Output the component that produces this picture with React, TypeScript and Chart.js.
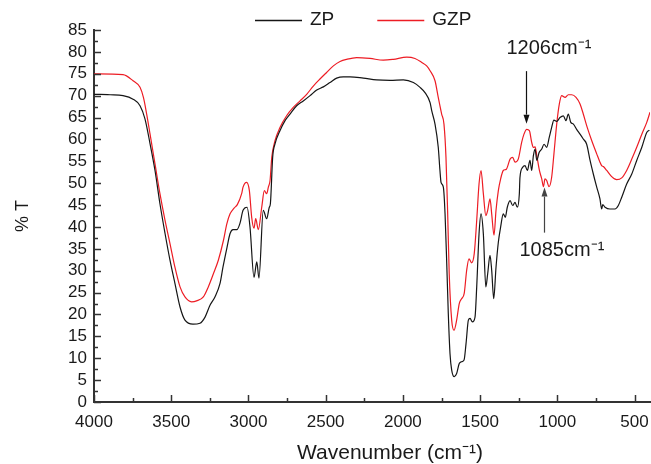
import React, { useEffect, useRef } from 'react';
import { Chart, registerables } from 'chart.js';

Chart.register(...registerables);

// ---- Data ----
const seriesNames = ['ZP', 'GZP'];

const zpWavenumber = [
  4000, 3961, 3896, 3812, 3747, 3702, 3670, 3637, 3605, 3573, 3540, 3508, 3476, 3443, 3411, 3359,
  3314, 3281, 3249, 3217, 3184, 3165, 3139, 3119, 3100, 3074, 3055, 3035, 3009, 2990, 2964, 2946,
  2932, 2904, 2882, 2865, 2858, 2843, 2828, 2796, 2763, 2731, 2688, 2645, 2601, 2558, 2515, 2472,
  2429, 2386, 2342, 2256, 2170, 2083, 1997, 1932, 1889, 1857, 1824, 1813, 1792, 1771, 1760, 1753,
  1738, 1727, 1716, 1706, 1695, 1684, 1667, 1652, 1635, 1620, 1604, 1591, 1576, 1565, 1550, 1533,
  1522, 1507, 1494, 1479, 1463, 1451, 1436, 1425, 1412, 1397, 1382, 1367, 1350, 1337, 1324, 1306,
  1289, 1274, 1259, 1246, 1242, 1225, 1209, 1194, 1177, 1166, 1155, 1144, 1133, 1118, 1101, 1086,
  1069, 1052, 1037, 1022, 1004, 983, 961, 944, 929, 913, 896, 875, 853, 832, 810, 788,
  767, 745, 724, 713, 706, 691, 659, 627, 605, 583, 551, 518, 486, 453, 421, 404,
];
const zpTransmittance = [
  70.3, 70.3, 70.2, 70.0, 69.2, 67.7, 64.7, 59.0, 52.9, 45.3, 38.5, 32.4, 27.1, 21.7, 18.7, 17.8,
  18.0, 19.4, 22.1, 24.0, 27.1, 30.8, 35.3, 38.5, 39.4, 39.4, 40.8, 43.8, 44.5, 40.0, 28.5, 32.0,
  28.3, 43.8, 41.9, 44.5, 45.3, 56.0, 59.0, 62.0, 64.3, 65.8, 67.7, 68.8, 70.0, 71.3, 72.0, 73.0,
  74.0, 74.3, 74.3, 74.0, 73.6, 73.5, 73.6, 73.0, 71.9, 70.7, 68.4, 66.5, 63.5, 58.2, 52.9, 50.2,
  49.1, 43.0, 31.6, 20.2, 11.1, 7.3, 5.8, 6.5, 8.8, 9.2, 9.6, 13.4, 18.7, 19.1, 18.3, 19.4,
  26.3, 38.4, 43.0, 38.4, 26.3, 29.3, 33.5, 30.1, 23.6, 30.8, 36.5, 40.0, 43.0, 42.2, 44.5, 46.0,
  44.9, 45.6, 44.5, 47.6, 51.3, 53.6, 54.0, 52.9, 55.2, 52.9, 56.3, 57.8, 55.2, 57.0, 57.8, 58.9,
  58.2, 60.5, 62.7, 64.4, 64.1, 65.0, 65.4, 64.3, 65.8, 63.9, 63.5, 62.3, 61.2, 60.1, 58.9, 55.2,
  52.1, 49.1, 46.4, 44.1, 45.1, 44.5, 44.1, 44.1, 44.9, 46.8, 49.8, 52.1, 55.2, 58.2, 61.6, 62.1,
];

const gzpWavenumber = [
  4000, 3812, 3747, 3702, 3680, 3659, 3637, 3605, 3573, 3540, 3508, 3476, 3443, 3411, 3368, 3336,
  3292, 3260, 3227, 3195, 3162, 3140, 3119, 3093, 3072, 3044, 3035, 3012, 2994, 2979, 2964, 2953,
  2936, 2914, 2897, 2882, 2871, 2860, 2849, 2828, 2796, 2753, 2710, 2666, 2623, 2580, 2537, 2494,
  2450, 2407, 2364, 2299, 2213, 2127, 2062, 1975, 1922, 1878, 1846, 1824, 1792, 1771, 1749, 1734,
  1721, 1710, 1700, 1684, 1669, 1652, 1635, 1620, 1603, 1587, 1572, 1555, 1538, 1522, 1507, 1494,
  1479, 1463, 1451, 1436, 1425, 1410, 1397, 1382, 1367, 1350, 1330, 1306, 1289, 1274, 1253, 1231,
  1216, 1198, 1181, 1166, 1155, 1144, 1133, 1116, 1101, 1090, 1080, 1069, 1054, 1037, 1022, 1004,
  987, 972, 950, 929, 907, 879, 853, 832, 806, 777, 745, 724, 713, 702, 680, 648,
  616, 583, 551, 518, 486, 453, 421, 400,
];
const gzpTransmittance = [
  75.0, 74.8, 73.4, 71.9, 69.6, 65.8, 61.2, 54.4, 47.6, 41.5, 36.2, 30.8, 26.3, 24.0, 22.9, 23.1,
  24.0, 26.3, 29.3, 32.4, 36.9, 40.7, 43.0, 44.3, 45.1, 47.6, 49.1, 50.2, 48.3, 42.2, 39.7, 41.9,
  39.4, 44.5, 48.3, 47.6, 49.1, 50.6, 55.9, 59.7, 62.7, 65.4, 67.3, 68.8, 70.3, 72.2, 73.8, 75.3,
  76.8, 77.8, 78.3, 78.7, 78.5, 78.1, 78.3, 78.8, 78.5, 77.6, 76.8, 75.7, 73.4, 69.6, 65.8, 63.5,
  55.9, 43.0, 29.3, 18.7, 16.4, 18.7, 22.5, 23.6, 24.8, 30.1, 32.7, 31.8, 33.9, 41.5, 49.8, 52.9,
  47.6, 42.6, 43.8, 46.4, 43.0, 38.1, 43.8, 48.3, 51.0, 52.9, 53.2, 55.5, 55.9, 54.8, 55.5, 59.3,
  61.2, 62.3, 62.0, 59.3, 58.2, 58.3, 56.3, 52.9, 51.0, 49.2, 51.0, 50.6, 49.2, 51.3, 56.7, 63.5,
  68.1, 70.0, 69.6, 70.2, 70.2, 69.6, 68.1, 65.8, 62.7, 59.7, 56.7, 54.8, 54.0, 53.8, 52.9, 51.5,
  50.8, 51.2, 52.9, 55.5, 58.2, 61.2, 63.9, 66.2,
];

const xTickValues = [4000, 3500, 3000, 2500, 2000, 1500, 1000, 500];
const xMinorTickValues = [3750, 3250, 2750, 2250, 1750, 1250, 750];
const yTickValues = [0, 5, 10, 15, 20, 25, 30, 35, 40, 45, 50, 55, 60, 65, 70, 75, 80, 85];
const yMinorTickValues = [2.5, 7.5, 12.5, 17.5, 22.5, 27.5, 32.5, 37.5, 42.5, 47.5, 52.5, 57.5, 62.5, 67.5, 72.5, 77.5, 82.5];

const xAxisTitle = 'Wavenumber (cm\u207B\u00B9)';
const yAxisTitle = '% T';
const peakLabels = ['1206cm\u207B\u00B9', '1085cm\u207B\u00B9'];
const peakWavenumbers = [1206, 1085];

// ---- Styling ----
const FONT = '"Liberation Sans", Arial, Helvetica, sans-serif';
const TEXT = '#1a1a1a';
const AXIS = '#333333';
const ZP_COLOR = '#151515';
const GZP_COLOR = '#ed1c24';

// arrows: tail / tip in y-values, text offsets in px
const peakArrowConfig = [
  { from: 75.6, to: 63.6, color: '#111111', textDx: -20, textDy: -23, below: false },
  { from: 38.7, to: 49.0, color: '#444444', textDx: -25, textDy: 18, below: true },
];

const innerTicksPlugin = {
  id: 'innerTicks',
  afterDraw(chart: any) {
    const { ctx, chartArea, scales } = chart;
    const xs = scales.x;
    const ys = scales.y;
    ctx.save();
    ctx.strokeStyle = AXIS;
    ctx.lineWidth = 1.5;
    const drawX = (vals: number[], len: number) => {
      vals.forEach((v) => {
        const px = Math.round(xs.getPixelForValue(v)) + 0.5;
        ctx.beginPath();
        ctx.moveTo(px, chartArea.bottom);
        ctx.lineTo(px, chartArea.bottom - len);
        ctx.stroke();
      });
    };
    const drawY = (vals: number[], len: number) => {
      vals.forEach((v) => {
        const py = Math.round(ys.getPixelForValue(v)) + 0.5;
        ctx.beginPath();
        ctx.moveTo(chartArea.left, py);
        ctx.lineTo(chartArea.left + len, py);
        ctx.stroke();
      });
    };
    drawX(xTickValues, 7);
    drawX(xMinorTickValues, 4);
    drawY(yTickValues, 7);
    drawY(yMinorTickValues, 4);
    ctx.restore();
  },
};

const xTitlePlugin = {
  id: 'xTitle',
  afterDraw(chart: any) {
    const { ctx, chartArea } = chart;
    ctx.save();
    ctx.font = `21px ${FONT}`;
    ctx.fillStyle = TEXT;
    ctx.textAlign = 'center';
    ctx.textBaseline = 'middle';
    const cx = (chartArea.left + chartArea.right) / 2 + 18;
    ctx.fillText(xAxisTitle, cx, chartArea.bottom + 51);
    ctx.restore();
  },
};

const lineLegendPlugin = {
  id: 'lineLegend',
  afterDraw(chart: any) {
    const { ctx } = chart;
    ctx.save();
    ctx.font = `19px ${FONT}`;
    ctx.textBaseline = 'middle';
    ctx.textAlign = 'left';
    const y = 20;
    let x = 255;
    chart.data.datasets.forEach((ds: any) => {
      ctx.strokeStyle = ds.borderColor;
      ctx.lineWidth = 1.3;
      ctx.beginPath();
      ctx.moveTo(x, y + 0.5);
      ctx.lineTo(x + 47, y + 0.5);
      ctx.stroke();
      ctx.fillStyle = TEXT;
      ctx.fillText(ds.label, x + 55, y);
      x += 55 + ctx.measureText(ds.label).width + 43;
    });
    ctx.restore();
  },
};

const peakArrowPlugin = {
  id: 'peakArrows',
  afterDraw(chart: any) {
    const { ctx, scales } = chart;
    const xs = scales.x;
    const ys = scales.y;
    ctx.save();
    peakWavenumbers.forEach((wn, i) => {
      const cfg = peakArrowConfig[i];
      const px = Math.round(xs.getPixelForValue(wn)) + 0.5;
      const y0 = ys.getPixelForValue(cfg.from);
      const y1 = ys.getPixelForValue(cfg.to);
      const dir = y1 > y0 ? 1 : -1;
      const head = 9;
      ctx.strokeStyle = cfg.color;
      ctx.fillStyle = cfg.color;
      ctx.lineWidth = 1.2;
      ctx.beginPath();
      ctx.moveTo(px, y0);
      ctx.lineTo(px, y1 - dir * head);
      ctx.stroke();
      ctx.beginPath();
      ctx.moveTo(px, y1);
      ctx.lineTo(px - 3, y1 - dir * head);
      ctx.lineTo(px + 3, y1 - dir * head);
      ctx.closePath();
      ctx.fill();
      ctx.fillStyle = TEXT;
      ctx.font = `20px ${FONT}`;
      ctx.textAlign = 'left';
      ctx.textBaseline = 'middle';
      const ty = cfg.below ? Math.max(y0, y1) + cfg.textDy : Math.min(y0, y1) + cfg.textDy;
      ctx.fillText(peakLabels[i], px + cfg.textDx, ty);
    });
    ctx.restore();
  },
};

export default function App() {
  const canvasRef = useRef<HTMLCanvasElement | null>(null);

  useEffect(() => {
    const canvas = canvasRef.current;
    if (!canvas) return;
    const chart = new Chart(canvas, {
      type: 'line',
      data: {
        datasets: [
          {
            label: seriesNames[0],
            data: zpWavenumber.map((x, i) => ({ x, y: zpTransmittance[i] })),
            borderColor: ZP_COLOR,
            backgroundColor: ZP_COLOR,
            borderWidth: 1.2,
            pointRadius: 0,
            cubicInterpolationMode: 'monotone',
            fill: false,
          },
          {
            label: seriesNames[1],
            data: gzpWavenumber.map((x, i) => ({ x, y: gzpTransmittance[i] })),
            borderColor: GZP_COLOR,
            backgroundColor: GZP_COLOR,
            borderWidth: 1.2,
            pointRadius: 0,
            cubicInterpolationMode: 'monotone',
            fill: false,
          },
        ],
      },
      options: {
        responsive: false,
        animation: false,
        devicePixelRatio: 1,
        layout: { padding: { top: 30, right: 1, left: 0, bottom: 0 } },
        plugins: {
          legend: { display: false },
          tooltip: { enabled: false },
        },
        scales: {
          x: {
            type: 'linear',
            reverse: true,
            min: 400,
            max: 4000,
            afterBuildTicks: (s: any) => {
              s.ticks = xTickValues.map((v) => ({ value: v }));
            },
            afterFit: (s: any) => {
              s.height = 62;
              s.paddingLeft = 0;
              s.paddingRight = 0;
            },
            grid: { display: false, drawTicks: false },
            border: { display: true, color: AXIS, width: 2 },
            ticks: {
              color: TEXT,
              font: { family: FONT, size: 17 },
              padding: 10,
              maxRotation: 0,
              autoSkip: false,
              callback: (v: any) => String(v),
            },
            title: { display: false },
          },
          y: {
            type: 'linear',
            min: 0,
            max: 85,
            afterBuildTicks: (s: any) => {
              s.ticks = yTickValues.map((v) => ({ value: v }));
            },
            afterFit: (s: any) => {
              s.width = 94;
              s.paddingTop = 0;
              s.paddingBottom = 0;
            },
            grid: { display: false, drawTicks: false },
            border: { display: true, color: AXIS, width: 2 },
            ticks: {
              color: TEXT,
              font: { family: FONT, size: 17 },
              padding: 7,
              autoSkip: false,
              callback: (v: any) => String(v),
            },
            title: {
              display: true,
              text: yAxisTitle,
              color: TEXT,
              font: { family: FONT, size: 18 },
              padding: { top: 12, bottom: 0 },
            },
          },
        },
      },
      plugins: [innerTicksPlugin, xTitlePlugin, lineLegendPlugin, peakArrowPlugin],
    } as any);
    return () => chart.destroy();
  }, []);

  return (
    <div style={{ position: 'fixed', left: 0, top: 0, width: 651, height: 464, background: '#ffffff' }}>
      <canvas ref={canvasRef} width={651} height={464} style={{ width: 651, height: 464, display: 'block' }} />
    </div>
  );
}
